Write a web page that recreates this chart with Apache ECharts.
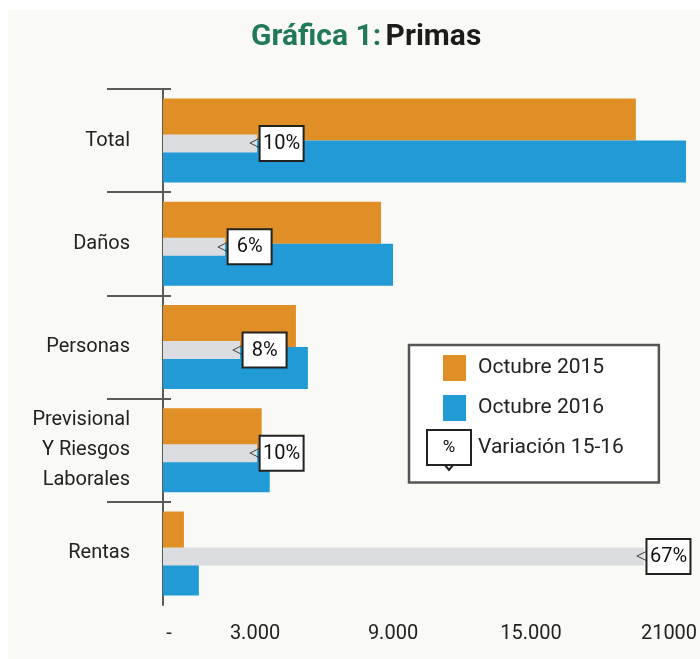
<!DOCTYPE html>
<html>
<head>
<meta charset="utf-8">
<script src="https://cdn.jsdelivr.net/npm/echarts@6/dist/echarts.min.js"></script>
<style>
  html, body { margin: 0; padding: 0; background: #fff; }
  #main { width: 700px; height: 659px; }
</style>
</head>
<body>
<div id="main"></div>
<script>
// datos
var categorias = ['Total', 'Daños', 'Personas', 'Previsional\nY Riesgos\nLaborales', 'Rentas'];
var octubre2015 = [20560, 9480, 5780, 4290, 910];
var octubre2016 = [22740, 10000, 6300, 4640, 1560];
var variacionPct = [10, 6, 8, 10, 67];
var variacionBarra = [4090, 2700, 3350, 4090, 20910];
var tickValores = [0, 3000, 9000, 15000, 21000];
var tickEtiquetas = ['-', '3.000', '9.000', '15.000', '21000'];
var separadores = [0, 1, 2, 3, 4];

var fuente = 'Roboto';
var myChart = echarts.init(document.getElementById('main'));

var option = {
  animation: false,
  backgroundColor: '#fff',
  textStyle: { fontFamily: fuente },
  title: {
    text: '{g|Gráfica 1:} {n|Primas}',
    left: 246,
    top: 17,
    textStyle: {
      rich: {
        g: { fontFamily: fuente, fontWeight: 'bold', fontSize: 30, color: '#21795a' },
        n: { fontFamily: fuente, fontWeight: 'bold', fontSize: 30, color: '#1b1b1b' }
      }
    }
  },
  graphic: [
    {
      type: 'rect', left: 8, top: 10, z: -10, silent: true,
      shape: { width: 692, height: 649 },
      style: { fill: '#f9faf5' }
    },
    {
      type: 'polygon', z: 100, silent: true,
      shape: { points: [[444, 464], [449, 470], [454, 464]] },
      style: { fill: '#fff', stroke: '#222', lineWidth: 2 }
    },
    {
      type: 'rect', z: 101, silent: true,
      shape: { x: 427, y: 430, width: 44, height: 35 },
      style: { fill: '#fff', stroke: '#222', lineWidth: 2 }
    },
    {
      type: 'text', z: 102, silent: true, x: 449, y: 448,
      style: { text: '%', fontSize: 17, fontFamily: fuente, fill: '#111', align: 'center', verticalAlign: 'middle' }
    }
  ],
  legend: {
    orient: 'vertical',
    left: 409,
    top: 345,
    padding: [10, 35, 24, 34],
    backgroundColor: '#fff',
    borderColor: '#555',
    borderWidth: 2.5,
    itemWidth: 23,
    itemHeight: 26,
    itemGap: 14,
    selectedMode: false,
    textStyle: { fontSize: 21, color: '#222', padding: [0, 0, 0, 7] },
    data: [
      { name: 'Octubre 2015', icon: 'rect' },
      { name: 'Octubre 2016', icon: 'rect' },
      { name: 'Variación 15-16', icon: 'none' }
    ]
  },
  grid: [
    { left: 163, top: 89, width: 529, height: 516, outerBoundsMode: 'none' },
    { left: 163, top: 92, width: 529, height: 516, outerBoundsMode: 'none' }
  ],
  xAxis: [
    { type: 'value', gridIndex: 0, min: 0, max: 23000, show: false },
    {
      type: 'value', gridIndex: 0, min: -1000, max: 22000, position: 'bottom',
      axisLine: { show: false, onZero: false }, axisTick: { show: false }, splitLine: { show: false },
      axisLabel: {
        customValues: tickValores,
        margin: 19,
        fontSize: 20,
        color: '#222',
        formatter: function (v) {
          var i = tickValores.indexOf(v);
          return i === 0 ? '{d|' + tickEtiquetas[i] + '}' : tickEtiquetas[i];
        },
        rich: { d: { padding: [0, 34, 0, 0], fontSize: 20, color: '#222' } }
      }
    },
    { type: 'value', gridIndex: 1, min: 0, max: 23000, show: false }
  ],
  yAxis: [
    {
      type: 'category', gridIndex: 0, data: categorias, inverse: true,
      axisLine: { onZero: false, lineStyle: { color: '#5a5a5a', width: 2 } },
      axisTick: { show: false },
      axisLabel: { fontSize: 20, color: '#222', margin: 33, lineHeight: 30 }
    },
    {
      type: 'value', gridIndex: 0, min: 0, max: 5, inverse: true, position: 'left', offset: -8,
      axisLine: { show: false, onZero: false }, axisLabel: { show: false }, splitLine: { show: false },
      axisTick: { show: true, length: 64, customValues: separadores, lineStyle: { color: '#5a5a5a', width: 2 } }
    },
    { type: 'category', gridIndex: 1, data: categorias, inverse: true, show: false }
  ],
  series: [
    {
      name: 'Octubre 2015', type: 'bar', xAxisIndex: 0, yAxisIndex: 0,
      data: octubre2015, barWidth: 42, barGap: '0%',
      itemStyle: { color: '#e08f27' }
    },
    {
      name: 'Octubre 2016', type: 'bar', xAxisIndex: 0, yAxisIndex: 0,
      data: octubre2016, barWidth: 42, barGap: '0%',
      itemStyle: { color: '#219ad6' }
    },
    {
      name: 'Variación 15-16', type: 'bar', xAxisIndex: 2, yAxisIndex: 2,
      data: variacionBarra, barWidth: 18,
      itemStyle: { color: '#dcdde0' },
      label: {
        show: true,
        position: 'right',
        distance: 0,
        offset: [-8, 0],
        formatter: function (p) {
          return '{n|◁}{b|' + variacionPct[p.dataIndex] + '%}';
        },
        rich: {
          n: { fontFamily: 'DejaVu Sans', fontWeight: 'bold', fontSize: 15, color: '#222' },
          b: {
            fontFamily: fuente, fontSize: 20, lineHeight: 22, color: '#111',
            backgroundColor: '#fff', borderColor: '#222', borderWidth: 2,
            padding: [7, 3, 6, 3], width: 36, align: 'center'
          }
        }
      }
    }
  ]
};

myChart.setOption(option);
</script>
</body>
</html>
